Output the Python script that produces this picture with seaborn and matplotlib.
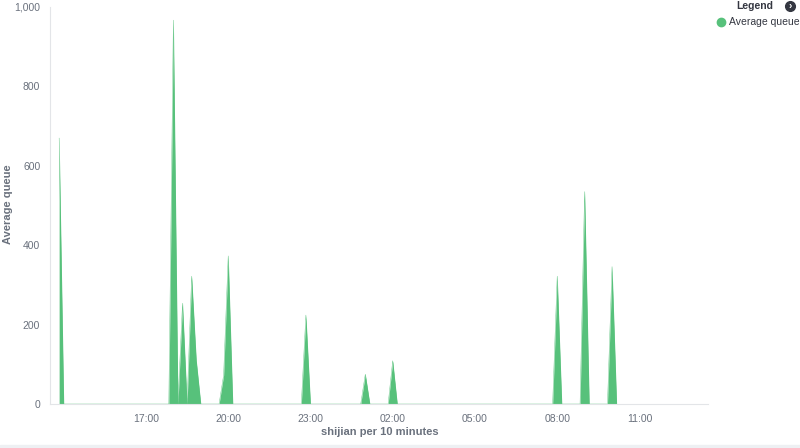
import pandas as pd
import seaborn as sns
import matplotlib.pyplot as plt
import matplotlib.dates as mdates
from matplotlib.lines import Line2D
from matplotlib.patches import Rectangle
from matplotlib.ticker import FuncFormatter

# 10 minute buckets, only the points around each spike (zero elsewhere)
times = ['2019-05-20 13:50', '2019-05-20 14:00',
         '2019-05-20 17:50', '2019-05-20 18:00', '2019-05-20 18:10', '2019-05-20 18:20',
         '2019-05-20 18:30', '2019-05-20 18:40', '2019-05-20 18:50', '2019-05-20 19:00',
         '2019-05-20 19:40', '2019-05-20 19:50', '2019-05-20 20:00', '2019-05-20 20:10',
         '2019-05-20 22:40', '2019-05-20 22:50', '2019-05-20 23:00',
         '2019-05-21 00:50', '2019-05-21 01:00', '2019-05-21 01:10',
         '2019-05-21 01:50', '2019-05-21 02:00', '2019-05-21 02:10',
         '2019-05-21 07:50', '2019-05-21 08:00', '2019-05-21 08:10',
         '2019-05-21 08:50', '2019-05-21 09:00', '2019-05-21 09:10',
         '2019-05-21 09:50', '2019-05-21 10:00', '2019-05-21 10:10']
queue = [670, 0,
         0, 967, 0, 254,
         0, 322, 111, 0,
         0, 73, 373, 0,
         0, 224, 0,
         0, 75, 0,
         0, 109, 0,
         0, 322, 0,
         0, 535, 0,
         0, 346, 0]

df = pd.DataFrame({'shijian': pd.to_datetime(times), 'queue': queue})

green = '#57c17b'
grey = '#6a717d'
dark = '#343741'

sns.set_theme(style='white')
plt.rcParams['font.family'] = ['Liberation Sans', 'DejaVu Sans']

fig = plt.figure(figsize=(8, 4.48), dpi=100)
ax = fig.add_axes([50 / 800, 1 - 404 / 448, 658 / 800, 397 / 448])

sns.lineplot(data=df, x='shijian', y='queue', color=green, linewidth=0.3, ax=ax)
ax.fill_between(df['shijian'], df['queue'], 0, color=green, linewidth=0)

ax.set_xlim(pd.Timestamp('2019-05-20 13:30'), pd.Timestamp('2019-05-21 13:30'))
ax.set_ylim(0, 1000)
ax.set_yticks([0, 200, 400, 600, 800, 1000])
ax.yaxis.set_major_formatter(FuncFormatter(lambda v, p: f'{int(v):,}'))
ax.xaxis.set_major_locator(mdates.HourLocator(byhour=[17, 20, 23, 2, 5, 8, 11]))
ax.xaxis.set_major_formatter(mdates.DateFormatter('%H:%M'))

for s in ['top', 'right']:
    ax.spines[s].set_visible(False)
for s in ['left', 'bottom']:
    ax.spines[s].set_color('#e3e5e8')
    ax.spines[s].set_linewidth(0.8)
ax.tick_params(axis='both', colors='#d3dae6', labelcolor=grey, labelsize=7.5,
               length=4, width=0.8, pad=3)
ax.set_xlabel('')
ax.set_ylabel('')

# axis titles placed where the reference has them
fig.text(380 / 800, 1 - 432 / 448, 'shijian per 10 minutes', ha='center', va='center',
         fontsize=8, fontweight='bold', color=grey)
fig.text(8 / 800, 1 - 204 / 448, 'Average queue', ha='center', va='center', rotation=90,
         fontsize=8, fontweight='bold', color=grey)

# legend panel (top right)
fig.text(773 / 800, 1 - 6 / 448, 'Legend', ha='right', va='center', fontsize=7.5,
         fontweight='bold', color=dark)
fig.add_artist(Line2D([790 / 800], [1 - 6 / 448], marker='o', markersize=7,
                      color=dark, transform=fig.transFigure))
fig.text(790.5 / 800, 1 - 6.3 / 448, '›', ha='center', va='center', fontsize=7,
         fontweight='bold', color='white')
fig.add_artist(Line2D([721 / 800], [1 - 22 / 448], marker='o', markersize=6,
                      color=green, transform=fig.transFigure))
fig.text(729 / 800, 1 - 22 / 448, 'Average queue', ha='left', va='center', fontsize=7.5,
         color=dark)

# faint bottom bar
fig.patches.append(Rectangle((0, 0), 1, 3 / 448, transform=fig.transFigure,
                             color='#eef0f3', figure=fig))

fig.savefig('out.png', dpi=100)
